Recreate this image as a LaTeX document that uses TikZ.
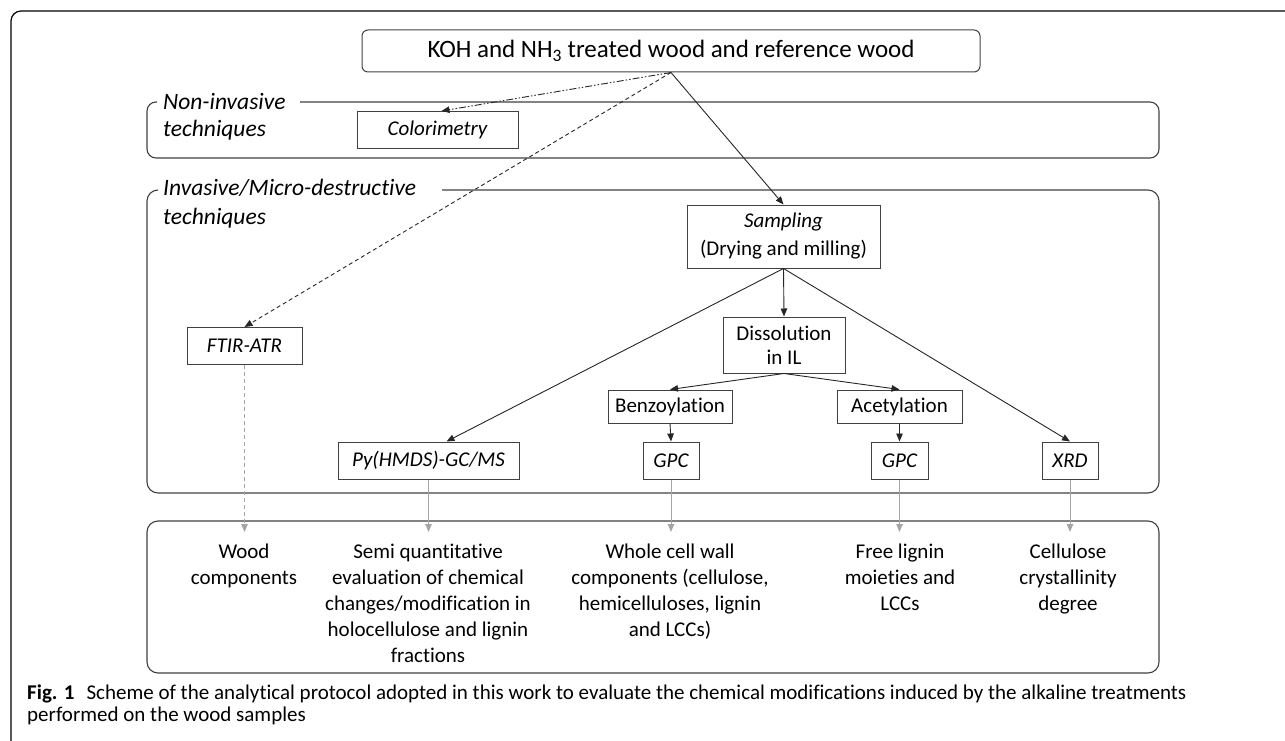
\documentclass[tikz,border=0pt]{standalone}
\usepackage{fontspec}
\setmainfont{Carlito}[Ligatures={NoCommon}]
\usetikzlibrary{arrows.meta}
\definecolor{linegray}{RGB}{64,64,64}
\definecolor{lightarrow}{RGB}{165,165,165}
\begin{document}
\begin{tikzpicture}[x=1pt,y=-1pt,
every node/.style={font=\fontsize{21}{26}\selectfont, inner sep=0pt},
frame/.style={draw=linegray, line width=1.1pt, rounded corners=11pt},
stepbox/.style={draw=linegray, line width=1pt, minimum height=37pt},
grouplabel/.style={anchor=west, font=\fontsize{23.5}{28}\selectfont\itshape},
result/.style={anchor=north, align=center},
arr/.style={-{Triangle[length=8pt,width=6.5pt]}, draw=black!85, line width=0.9pt},
grayarr/.style={-{Triangle[length=8pt,width=6.5pt]}, draw=lightarrow, line width=1pt},]
\useasboundingbox (0,0) rectangle (1285,741);
\draw[line width=1.2pt, rounded corners=10pt] (11,741) -- (11,11) -- (1285,11);

% groups
\draw[frame, rounded corners=9pt] (300,102) -- (1159,102) -- (1159,158) -- (147,158) -- (147,102) -- (157,102);
\draw[frame] (442,190) -- (1159,190) -- (1159,493) -- (147,493) -- (147,190) -- (158,190);
\draw[frame] (147,521) rectangle (1159,673);
\node[grouplabel] (nonlab) at (163,102) {Non-invasive};
\node[grouplabel] (nonlabb) at (163,130) {techniques};
\node[grouplabel] (invlab) at (163,188) {Invasive/Micro-destructive};
\node[grouplabel] (invlabb) at (163,218) {techniques};

% boxes
\node[draw=linegray, line width=1pt, rounded corners=6pt, minimum width=618pt, minimum height=42pt,
      font=\fontsize{25}{30}\selectfont] (wood) at (671,51) {KOH and NH\textsubscript{3} treated wood and reference wood};
\node[stepbox, minimum width=161pt, font=\fontsize{21}{26}\selectfont\itshape] (colo) at (437.5,130) {Colorimetry};
\node[stepbox, minimum width=115pt, font=\fontsize{21}{26}\selectfont\itshape] (ftir) at (244.5,346) {FTIR-ATR};
\node[stepbox, minimum width=193pt, minimum height=63pt, align=center, font=\fontsize{21}{28}\selectfont] (samp) at (783.5,236.5) {\textit{Sampling}\\(Drying and milling)};
\node[stepbox, minimum width=122pt, minimum height=56pt, align=center, font=\fontsize{21}{24}\selectfont] (diss) at (784,345) {Dissolution\\in IL};
\node[stepbox, minimum width=124pt, minimum height=33pt] (benz) at (670,406.5) {Benzoylation};
\node[stepbox, minimum width=125pt, minimum height=33pt] (acet) at (899.5,406.5) {Acetylation};
\node[stepbox, minimum width=56pt, font=\fontsize{21}{26}\selectfont\itshape] (gpca) at (671,460.5) {GPC};
\node[stepbox, minimum width=57pt, font=\fontsize{21}{26}\selectfont\itshape] (gpcb) at (899.5,460.5) {GPC};
\node[stepbox, minimum width=181pt, font=\fontsize{21}{26}\selectfont\itshape] (py) at (428.5,460.5) {Py(HMDS)-GC/MS};
\node[stepbox, minimum width=56pt, font=\fontsize{21}{26}\selectfont\itshape] (xrd) at (1070,460.5) {XRD};

% results
\node[result] (res1) at (244,544) {Wood\\components};
\node[result] (res2) at (428,544) {Semi quantitative\\evaluation of chemical\\changes/modification in\\holocellulose and lignin\\fractions};
\node[result] (res3) at (670,544) {Whole cell wall\\components (cellulose,\\hemicelluloses, lignin\\and LCCs)};
\node[result] (res4) at (900,544) {Free lignin\\moieties and\\LCCs};
\node[result] (res5) at (1068,544) {Cellulose\\crystallinity\\degree};
\coordinate (end1) at (244.5,532);
\coordinate (end2) at (428.5,532);
\coordinate (end3) at (671,532);
\coordinate (end4) at (899.5,532);
\coordinate (end5) at (1070,532);

% connectors
\draw[arr, dash pattern=on 7pt off 2pt on 1.5pt off 2pt on 1.5pt off 2pt] (wood.south) -- ([xshift=4pt]colo.north);
\draw[arr, dash pattern=on 4pt off 3pt] (wood.south) -- (ftir.north);
\draw[arr] (wood.south) -- (samp.north);
\draw[arr] (samp.south) -- (diss.north);
\draw[arr] (samp.south) -- ([xshift=18pt]py.north);
\draw[arr] (samp.south) -- (xrd.north);
\draw[arr] (diss.south) -- (benz.north);
\draw[arr] (diss.south) -- (acet.north);
\draw[arr] (benz.south) -- (gpca.north);
\draw[arr] (acet.south) -- (gpcb.north);
\draw[grayarr, dash pattern=on 4pt off 3pt] (ftir.south) -- (end1);
\draw[grayarr] (py.south) -- (end2);
\draw[grayarr] (gpca.south) -- (end3);
\draw[grayarr] (gpcb.south) -- (end4);
\draw[grayarr] (xrd.south) -- (end5);

% caption
\node[anchor=west, font=\fontsize{21}{24}\selectfont] (capa) at (27,694) {\textbf{Fig. 1}\hspace{12pt}Scheme of the analytical protocol adopted in this work to evaluate the chemical modifications induced by the alkaline treatments};
\node[anchor=west, font=\fontsize{21}{24}\selectfont] (capb) at (27,716) {performed on the wood samples};
\end{tikzpicture}
\end{document}
